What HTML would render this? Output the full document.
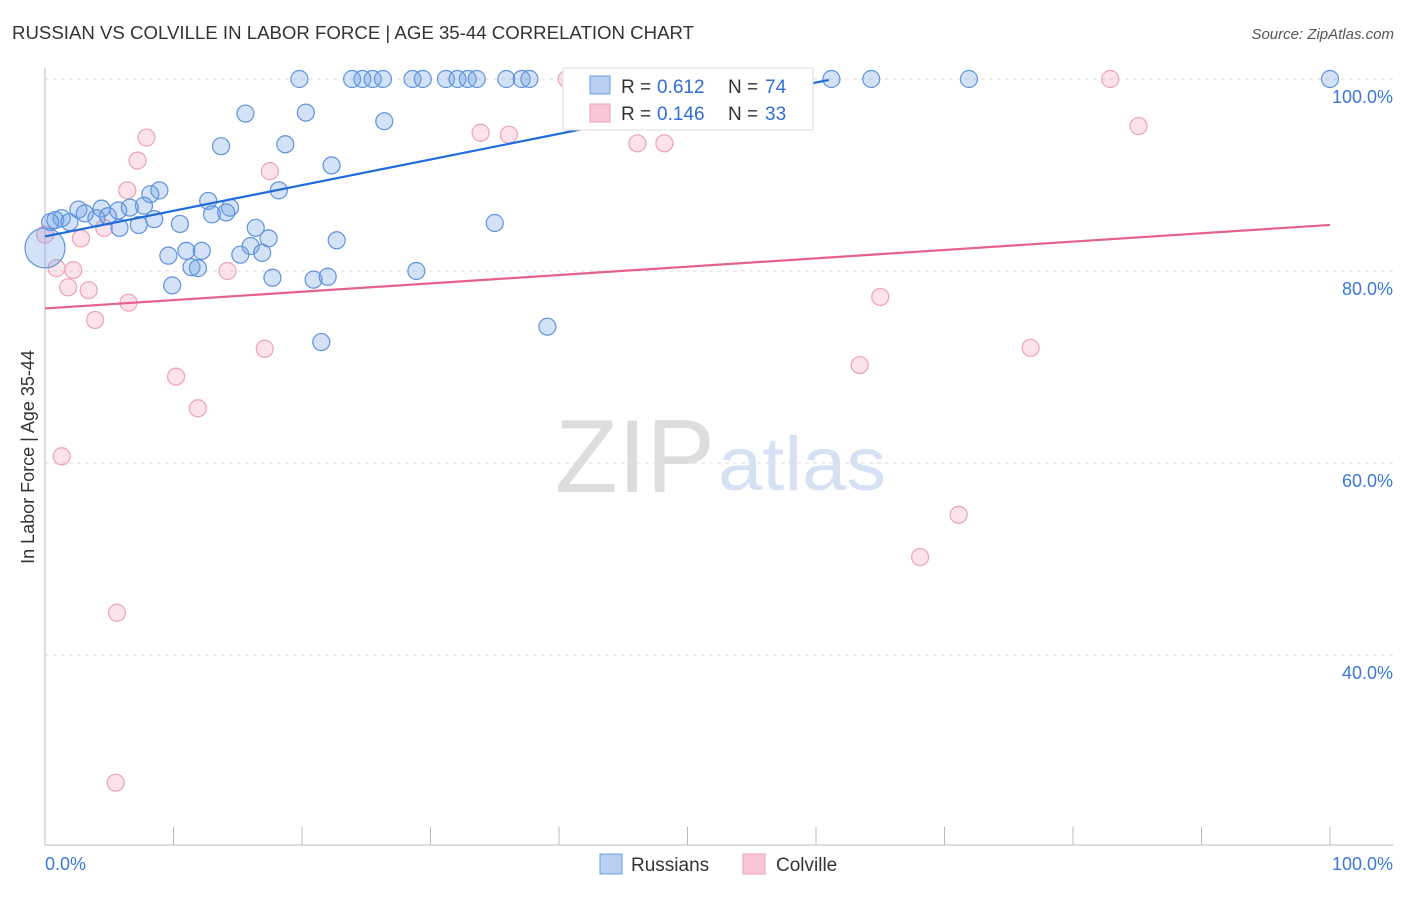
<!DOCTYPE html>
<html><head><meta charset="utf-8"><style>
body{margin:0;background:#fff;font-family:"Liberation Sans",sans-serif;}
svg text{font-family:"Liberation Sans",sans-serif;}
</style></head><body>
<svg id="c" width="1406" height="892">
<text x="12" y="39" font-size="18" fill="#333" textLength="682" lengthAdjust="spacingAndGlyphs">RUSSIAN VS COLVILLE IN LABOR FORCE | AGE 35-44 CORRELATION CHART</text>
<text x="1394" y="39" font-size="15" fill="#555" text-anchor="end" font-style="italic">Source: ZipAtlas.com</text>
<text x="635" y="492" font-size="104" fill="#ddd" text-anchor="middle" font-family="Liberation Serif" textLength="160" lengthAdjust="spacingAndGlyphs">ZIP</text>
<text x="802" y="490" font-size="76" fill="#d6e2f3" text-anchor="middle" textLength="168" lengthAdjust="spacingAndGlyphs">atlas</text>
<text transform="translate(34,457) rotate(-90)" font-size="18" fill="#333" text-anchor="middle">In Labor Force | Age 35-44</text>
<g id="grid"></g><g id="axes"></g><g id="pts"></g><g id="lines"></g>
<g>
<rect x="563" y="68" width="250" height="62" fill="#fff" stroke="#ddd"/>
<rect x="590" y="76" width="20" height="18" fill="#b9d0f3" stroke="#6b9de0"/>
<rect x="590" y="104" width="20" height="18" fill="#f8c6d6" stroke="#eaa0b8"/>
<text x="621" y="93" font-size="19" fill="#333">R =</text>
<text x="657" y="93" font-size="19" fill="#2f6fd6">0.612</text>
<text x="728" y="93" font-size="19" fill="#333">N =</text>
<text x="765" y="93" font-size="19" fill="#2f6fd6">74</text>
<text x="621" y="120" font-size="19" fill="#333">R =</text>
<text x="657" y="120" font-size="19" fill="#2f6fd6">0.146</text>
<text x="728" y="120" font-size="19" fill="#333">N =</text>
<text x="765" y="120" font-size="19" fill="#2f6fd6">33</text>
</g>
<g>
<rect x="600" y="854" width="22" height="20" fill="#b9d0f3" stroke="#6b9de0"/>
<text x="631" y="871" font-size="19" fill="#333">Russians</text>
<rect x="743" y="854" width="22" height="20" fill="#f8c6d6" stroke="#eaa0b8"/>
<text x="776" y="871" font-size="19" fill="#333">Colville</text>
</g>
<text x="45" y="870" font-size="18" fill="#3b78d8">0.0%</text>
<text x="1393" y="870" font-size="18" fill="#3b78d8" text-anchor="end">100.0%</text>
</svg>
<script>
const yTicks=[100,80,60,40];
const yTickLabels=["100.0%","80.0%","60.0%","40.0%"];
const russX=[19.8,23.9,24.7,25.5,26.3,28.6,29.4,31.2,32.1,32.9,33.6,35.9,37.1,37.7,47.2,50.0,52.3,61.2,64.3,71.9,100,15.6,20.3,26.4,13.7,18.7,22.3,8.9,18.2,8.2,12.7,14.4,13.0,14.1,7.7,6.6,5.7,4.4,3.1,2.6,1.3,0.8,0.4,1.9,4.0,4.9,8.5,10.5,7.3,5.8,16.4,35.0,22.7,17.4,16.0,15.2,16.9,11.0,12.2,9.6,11.4,11.9,28.9,17.7,20.9,22.0,9.9,39.1,21.5,0];
const russY=[100,100,100,100,100,100,100,100,100,100,100,100,100,100,100,100,100,100,100,100,100,96.4,96.5,95.6,93.0,93.2,91.0,88.4,88.4,88.0,87.3,86.6,85.9,86.1,86.8,86.6,86.3,86.5,86.0,86.4,85.5,85.3,85.1,85.1,85.5,85.7,85.4,84.9,84.8,84.5,84.5,85.0,83.2,83.4,82.6,81.7,81.9,82.1,82.1,81.6,80.4,80.3,80.0,79.3,79.1,79.4,78.5,74.2,72.6,82.4];
const colX=[0,0.9,2.2,1.8,3.4,3.9,4.6,2.8,6.5,6.4,7.2,7.9,10.2,11.9,14.2,17.1,17.5,1.3,5.6,5.5,33.9,36.1,40.6,42.3,46.1,48.2,63.4,65.0,68.1,71.1,76.7,82.9,85.1];
const colY=[83.8,80.3,80.1,78.3,78.0,74.9,84.5,83.4,76.7,88.4,91.5,93.9,69.0,65.7,80.0,71.9,90.4,60.7,44.4,26.7,94.4,94.2,100,100,93.3,93.3,70.2,77.3,50.2,54.6,72.0,100,95.1];
const russTrend=[[0,83.6],[61,99.9]];
const colTrend=[[0,76.1],[100,84.8]];
const NS="http://www.w3.org/2000/svg";
const X=v=>45+v*12.85, Y=v=>79+(100-v)*9.6;
function mk(t,a,p){const e=document.createElementNS(NS,t);for(const k in a)e.setAttribute(k,a[k]);document.getElementById(p).appendChild(e);return e;}
yTicks.forEach((t,i)=>{
 const g=mk('line',{x1:45,x2:1393,y1:Y(t),y2:Y(t),stroke:'#ddd','stroke-dasharray':'4,4'},'grid');
 
 
 const l=mk('text',{x:1393,y:Y(t)+24,'font-size':18,fill:'#3b78d8','text-anchor':'end'},'grid');
 l.textContent=yTickLabels[i];
 
 
});
const ax=mk('line',{x1:45,x2:45,y1:68,y2:845,stroke:'#bbb'},'axes');


const bx=mk('line',{x1:45,x2:1393,y1:845,y2:845,stroke:'#bbb'},'axes');


for(let i=0;i<=10;i++){
 const t=mk('line',{x1:X(i*10),x2:X(i*10),y1:827,y2:845,stroke:'#bbb'},'axes');
 
 
}
colX.forEach((x,i)=>{
 const c=mk('circle',{cx:X(x),cy:Y(colY[i]),r:8.5,fill:'rgba(245,160,190,0.3)',stroke:'#eba2bb','stroke-width':1.2},'pts');
 
 
});
russX.forEach((x,i)=>{
 const big=(i===russX.length-1);
 const c=mk('circle',{cx:X(x),cy:Y(russY[i]),r:big?20:8.5,fill:'rgba(110,160,230,0.3)',stroke:'#5f93dc','stroke-width':1.2},'pts');
 
 
});
const l1=mk('line',{x1:X(russTrend[0][0]),y1:Y(russTrend[0][1]),x2:X(russTrend[1][0]),y2:Y(russTrend[1][1]),stroke:'#1f6bd8','stroke-width':2.2},'lines');


const l2=mk('line',{x1:X(colTrend[0][0]),y1:Y(colTrend[0][1]),x2:X(colTrend[1][0]),y2:Y(colTrend[1][1]),stroke:'#e5608c','stroke-width':2.2},'lines');


</script>
</body></html>
